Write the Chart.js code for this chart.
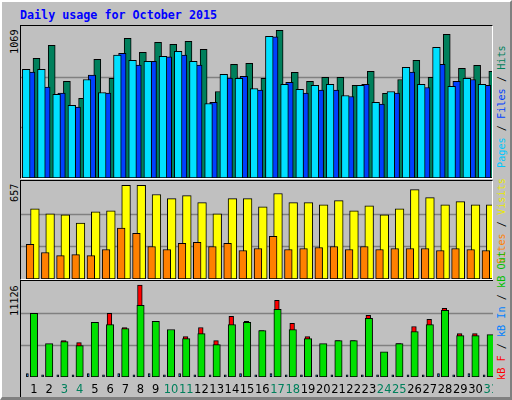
<!DOCTYPE html>
<html><head><meta charset="utf-8">
<script src="https://cdn.jsdelivr.net/npm/chart.js@4/dist/chart.umd.min.js"></script>
<style>
html,body{margin:0;padding:0;background:#c0c0c0;}
#wrap{position:relative;width:508px;height:395px;background:#c0c0c0;border-top:2px solid #fff;border-left:2px solid #fff;border-right:2px solid #808080;border-bottom:3px solid #808080;overflow:hidden;font-family:"DejaVu Sans Mono",monospace;}
.panel{position:absolute;box-sizing:border-box;border-top:1px solid #000;border-left:1px solid #000;border-right:1px solid #fff;border-bottom:1px solid #fff;}
.panel canvas{display:block;}
#title{position:absolute;left:18px;top:6px;color:#0000ff;font-weight:bold;font-size:11.7px;}
.rot{position:absolute;white-space:nowrap;transform-origin:0 0;transform:rotate(-90deg);font-size:10.2px;line-height:12px;}
</style></head><body>
<div id="wrap">
<div id="title">Daily usage for October 2015</div>
<div class="panel" style="left:18px;top:23px;width:473px;height:154px"><canvas id="c1"></canvas></div>
<div class="panel" style="left:18px;top:178px;width:473px;height:100px"><canvas id="c2"></canvas></div>
<div class="panel" style="left:18px;top:278px;width:473px;height:120px;border-bottom:none;border-right:none"><canvas id="c3"></canvas></div>
<div class="rot" style="left:7px;top:52px">1069</div>
<div class="rot" style="left:7px;top:200px">657</div>
<div class="rot" style="left:7px;top:314px">11126</div>
<div class="rot" style="left:494px;top:166px"><span style="color:#00c8ff">Pages</span> / <span style="color:#0040ff">Files</span> / <span style="color:#00805c">Hits</span></div>
<div class="rot" style="left:494px;top:262px"><span style="color:#ff8000">Sites</span> / <span style="color:#e8e800">Visits</span></div>
<div class="rot" style="left:494px;top:378px"><span style="color:#ff0000">kB F</span> / <span style="color:#0080ff">kB In</span> / <span style="color:#00c000">kB Out</span></div>
</div>
<script>
const days = [1,2,3,4,5,6,7,8,9,10,11,12,13,14,15,16,17,18,19,20,21,22,23,24,25,26,27,28,29,30,31];
const weekend = [3,4,10,11,17,18,24,25,31];
const hits  = [866,960,699,576,859,721,1011,909,982,967,989,931,626,822,830,721,1069,764,699,728,728,670,772,612,713,851,728,1040,793,815,772];
const files = [767,658,614,513,745,614,902,817,844,876,890,817,547,723,735,636,1021,692,614,636,636,590,677,535,614,767,655,822,699,713,670];
const pages = [786,786,605,525,713,619,890,851,844,880,917,844,539,750,721,648,1025,677,641,670,677,597,670,547,626,801,677,946,663,721,677];
const visits= [493,457,450,393,471,478,657,657,593,564,585,536,457,564,564,507,600,536,536,521,550,478,514,450,493,628,571,521,543,521,521];
const sites = [243,186,164,171,164,207,357,321,228,207,250,257,228,250,200,214,300,207,214,221,228,207,228,207,214,214,214,200,214,207,200];
const kbF   = [7702,3790,4401,4157,6602,7702,5990,11126,6602,5379,4890,5990,4401,7335,6724,5624,9291,6479,4890,3790,4401,4401,7457,2934,4034,6113,6968,8313,5257,5257,5012];
const kbOut = [7702,4034,4279,3790,6602,6357,5868,8680,6724,5746,4646,5257,3912,6357,6602,5624,8191,5746,4646,4034,4401,4401,7091,3056,4034,5501,6357,8069,5012,5012,5135];
const kbIn  = [420,250,250,250,420,250,420,250,420,250,420,250,250,250,420,250,420,250,250,250,250,250,250,250,250,250,250,420,250,420,250];

function pts(vals, shift){ return vals.map((v,i)=>({x:days[i]+shift, y:v})); }
function ds(label, vals, shift, color, w, order){
  return {label, data:pts(vals,shift), backgroundColor:color, borderColor:'#000', borderWidth:1, borderSkipped:false, barThickness:w, order};
}
const grid = {id:'grid', beforeDatasetsDraw(ch){
  const y = ch.scales.y, ctx = ch.ctx, ca = ch.chartArea;
  ctx.save(); ctx.strokeStyle='#808080'; ctx.lineWidth=1.5;
  [1,2].forEach(k=>{ const p=Math.round(y.getPixelForValue(y.max*k/3))+0.5;
    ctx.beginPath(); ctx.moveTo(ca.left,p); ctx.lineTo(ca.right,p); ctx.stroke(); });
  ctx.restore();
}};
const dayLabels = {id:'dayLabels', afterDraw(ch){
  const x = ch.scales.x, ctx = ch.ctx;
  ctx.save(); ctx.font='11.5px "DejaVu Sans"'; ctx.textAlign='center'; ctx.textBaseline='middle';
  days.forEach(d=>{ ctx.fillStyle = weekend.includes(d)?'#00805c':'#000';
    ctx.fillText(String(d), x.getPixelForValue(d), ch.chartArea.bottom+13); });
  ctx.restore();
}};
function make(id, datasets, ymax, padBottom, extra){
  return new Chart(document.getElementById(id), {
    type:'bar', data:{datasets},
    options:{responsive:true, maintainAspectRatio:false, animation:false,
      layout:{padding:{left:0,right:0,top:0,bottom:padBottom}},
      plugins:{legend:{display:false}, tooltip:{enabled:false}},
      scales:{x:{type:'linear', min:0.15, max:31.15, offset:false, bounds:'ticks', display:false},
              y:{min:0, max:ymax, display:false}}},
    plugins:[grid].concat(extra||[])
  });
}
make('c1', [
  ds('Hits', hits, -0.29, '#00805c', 7, 3),
  ds('Files', files, -0.18, '#0040ff', 7.5, 2),
  ds('Pages', pages, 0, '#00e0ff', 7.7, 1)
], 1100, 0);
make('c2', [
  ds('Visits', visits, -0.22, '#ffff00', 8.7, 2),
  ds('Sites', sites, 0, '#ff8000', 7.7, 1)
], 688, 0);
make('c3', [
  ds('kB F', kbF, -0.35, '#ff0000', 4.7, 3),
  ds('kB In', kbIn, -0.3, '#0080ff', 2, 1),
  ds('kB Out', kbOut, 0, '#00e000', 7.4, 2)
], 11615, 23, [dayLabels]);
</script>
</body></html>
